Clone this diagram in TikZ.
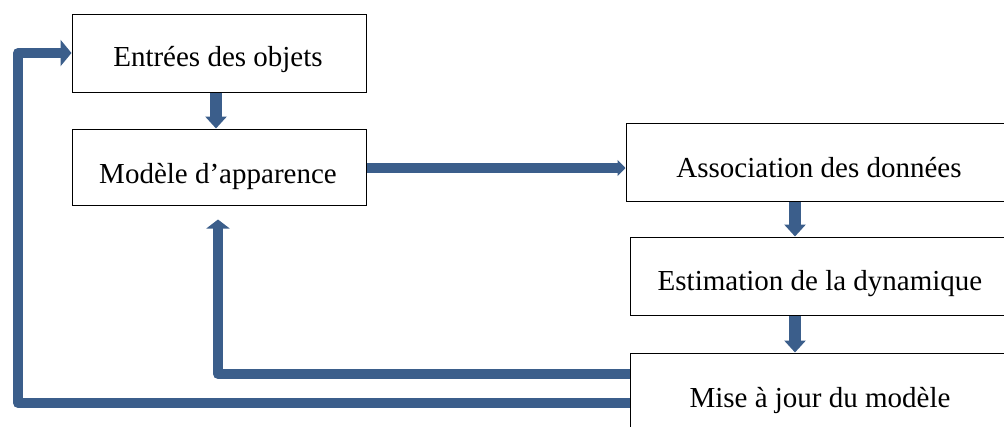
\documentclass[tikz,border=0pt]{standalone}
\usepackage{fontspec}
\setmainfont{Liberation Serif}
\usetikzlibrary{arrows.meta}
\definecolor{arrowblue}{RGB}{59,94,139}
\begin{document}
\begin{tikzpicture}[x=1pt,y=-1pt,
  box/.style={draw=black, line width=1pt, fill=white, inner sep=0pt},
  lbl/.style={anchor=base, inner sep=0pt, font=\fontsize{29}{34}\selectfont},
  flow/.style={draw=arrowblue, line width=10pt, line join=round},
  vflow/.style={draw=arrowblue, line width=12pt, -{Triangle[width=21pt,length=12pt]}},
  hflow/.style={draw=arrowblue, line width=10pt, -{Triangle[width=16pt,length=8pt]}},
]
\useasboundingbox (0,0) rectangle (1004,426);
% boxes
\node[box, minimum width=294pt, minimum height=78pt] (e) at (219,53) {};
\node[box, minimum width=294pt, minimum height=76pt] (m) at (219,167) {};
\node[box, minimum width=384pt, minimum height=78pt] (a) at (818,162) {};
\node[box, minimum width=380pt, minimum height=78pt] (s) at (820,276) {};
\node[box, minimum width=380pt, minimum height=90pt] (u) at (820,398) {};
% labels
\node[lbl] (et) at (218,66) {Entrées des objets};
\node[lbl] (mt) at (218,183) {Modèle d’apparence};
\node[lbl] (at) at (819,177) {Association des données};
\node[lbl] (st) at (820,290) {Estimation de la dynamique};
\node[lbl] (ut) at (820,407) {Mise à jour du modèle};
% helper coordinates
\coordinate (xe) at (216,0);
\coordinate (xa) at (795,0);
\coordinate (yh) at (0,168);
\coordinate (y1) at (0,374);
\coordinate (y2) at (0,403);
\coordinate (yt) at (0,53);
\coordinate (x1) at (218,0);
\coordinate (x2) at (18,0);
% straight arrows
\draw[vflow] (e.south -| xe) -- (m.north -| xe);
\draw[vflow] (a.south -| xa) -- (s.north -| xa);
\draw[vflow] (s.south -| xa) -- (u.north -| xa);
\draw[hflow] (m.east |- yh) -- (a.west |- yh);
% feedback arrows
\draw[flow, -{Triangle[width=23pt,length=9pt]}, shorten >=14pt]
  (u.west |- y1) -- (x1 |- y1) -- (m.south -| x1);
\draw[flow, -{Triangle[width=26pt,length=11pt]}]
  (u.west |- y2) -- (x2 |- y2) -- (x2 |- yt) -- (e.west |- yt);
\end{tikzpicture}
\end{document}
